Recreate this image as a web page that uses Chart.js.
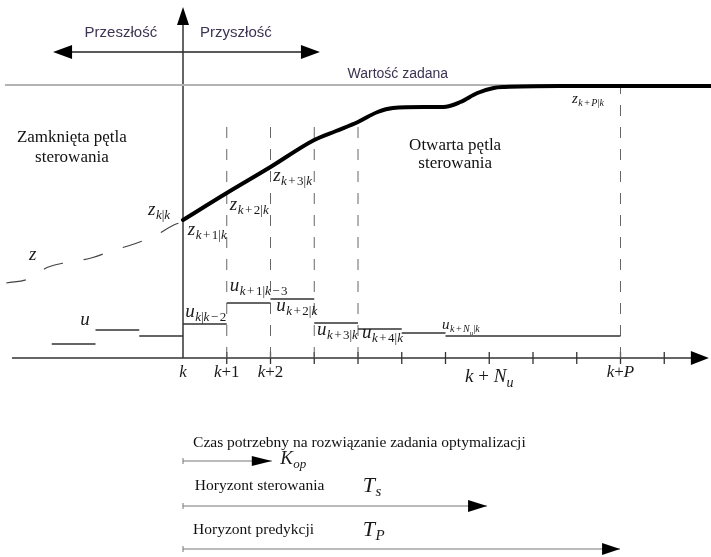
<!DOCTYPE html>
<html>
<head>
<meta charset="utf-8">
<script src="https://cdn.jsdelivr.net/npm/chart.js@4/dist/chart.umd.min.js"></script>
<style>
  html, body { margin: 0; padding: 0; background: #fff; }
  #c { display: block; }
</style>
</head>
<body>
<canvas id="c" width="711" height="557"></canvas>
<script>
// x = time step relative to k, y = level above the time axis
const zPastT = [-4.04, -3.54, -3.08, -2.60, -2.10, -1.64, -1.12, -0.66, -0.21, 0];
const zPastV = [75, 79, 91, 96, 100, 107, 114, 122, 133, 136];

const zPredT = [0, 1, 2, 3, 3.5, 4, 4.45, 4.8, 5.5, 5.95, 6.34, 6.73, 7.1, 7.35, 8.6, 12.1];
const zPredV = [138, 165, 191, 218, 227, 236, 246, 250, 251, 251, 256, 265, 270, 271, 272, 272];

const setpoint = 273;

const uStart = [-3, -2, -1, 0, 1, 2, 3, 4, 5, 6];
const uEnd   = [-2, -1, 0, 1, 2, 3, 4, 5, 6, 10];
const uLevel = [14, 28, 22, 34, 55, 59, 35, 29, 25, 22];

const markSteps = [1, 2, 3, 4, 10];          // dashed verticals
const markTop   = [233, 235, 236, 238, 270];

const axisTicks = [1, 2, 3, 4, 5, 6, 7, 8, 9, 10, 11];
const tickSteps  = [0, 1, 2, 7, 10];
const tickLabels = ['k', 'k+1', 'k+2', 'k + N_u', 'k+P'];

const horizonNames = ['K_op', 'T_s', 'T_P'];
const horizonEnd   = [2.03, 6.95, 9.99];

const SERIF = '"Liberation Serif", "Times New Roman", serif';
const MATH = SERIF;
const SANS = '"Liberation Sans", Arial, sans-serif';

function pts(xs, ys) {
    return xs.map((x, i) => ({ x: x, y: ys[i] }));
}

// separate pieces joined by null gaps
function segments(x0, x1, y0, y1) {
    const out = [];
    for (let i = 0; i < x0.length; i++) {
        out.push({ x: x0[i], y: y0[i] }, { x: x1[i], y: y1[i] }, { x: x1[i], y: null });
    }
    return out;
}

const line = (data, color, width, extra) => Object.assign({
    data: data, showLine: true, borderColor: color, borderWidth: width,
    pointRadius: 0, fill: false, spanGaps: false
}, extra || {});

// horizon arrows below the chart
const hLevel = [-103, -148, -191];

const datasets = [
    line(pts(zPredT, zPredV), '#000', 4, { cubicInterpolationMode: 'monotone', borderCapStyle: 'round' }),
    line(pts(zPastT, zPastV), '#444', 1.2, { borderDash: [20, 21], tension: 0.4 }),
    line(segments(uStart, uEnd, uLevel, uLevel), '#333', 1.5),
    line(segments(markSteps, markSteps, markSteps.map(() => 0), markTop), '#666', 1, { borderDash: [11, 11] }),
    line([{ x: -4.07, y: setpoint }, { x: 12.1, y: setpoint }], '#b4b4b4', 2),
    line([{ x: -3.91, y: 0 }, { x: 11.7, y: 0 }], '#333', 1.5),
    line([{ x: 0, y: 0 }, { x: 0, y: 338 }], '#333', 1.5),
    line([{ x: -2.9, y: 306 }, { x: 3.05, y: 306 }], '#222', 1.5),
    line(segments(horizonNames.map(() => 0), horizonEnd, hLevel, hLevel), '#777', 1),
    {
        data: axisTicks.map(s => ({ x: s, y: 0 })), showLine: false,
        pointStyle: 'line', rotation: 90, pointRadius: 6, borderColor: '#333', borderWidth: 1.3
    },
    {
        data: hLevel.map(v => ({ x: 0, y: v })), showLine: false,
        pointStyle: 'line', rotation: 90, pointRadius: 3, borderColor: '#777', borderWidth: 1
    }
];

// split "k+1|k" into runs: letters italic, the rest upright, "_x" one level lower
function runs(str, size, pad) {
    const out = [];
    for (let i = 0; i < str.length; i++) {
        let ch = str[i];
        if (ch === '_') {
            out.push({ t: str[i + 1], it: true, size: Math.round(size * 0.72), dy: size * 0.25 });
            i++;
            continue;
        }
        if (ch === '-') ch = '\u2212';
        const letter = /[A-Za-z]/.test(ch);
        const op = ch === '+' || ch === '\u2212';
        out.push({ t: ch, it: letter, size: size, dy: 0, pad: op ? pad : 0 });
    }
    return out;
}

function measureRuns(ctx, rs, family) {
    let w = 0;
    rs.forEach(r => {
        ctx.font = (r.it ? 'italic ' : '') + r.size + 'px ' + family;
        w += ctx.measureText(r.t).width + 2 * (r.pad || 0);
    });
    return w;
}

function drawRuns(ctx, rs, x, y, family) {
    rs.forEach(r => {
        ctx.font = (r.it ? 'italic ' : '') + r.size + 'px ' + family;
        x += r.pad || 0;
        ctx.fillText(r.t, x, y + r.dy);
        x += ctx.measureText(r.t).width + (r.pad || 0);
    });
    return x;
}

// symbol with a subscript, left edge at x, baseline at y
function drawSym(ctx, x, y, base, sub, size) {
    ctx.font = 'italic ' + size + 'px ' + MATH;
    ctx.fillText(base, x, y);
    x += ctx.measureText(base).width + 0.5;
    const s = Math.round(size * 0.68);
    drawRuns(ctx, runs(sub, s, 1.5), x, y + size * 0.2, MATH);
}

const symbols = [
    { b: 'z', s: 'k|k', x: -0.80, y: 143, size: 19 },
    { b: 'z', s: 'k+1|k', x: 0.11, y: 123, size: 19 },
    { b: 'z', s: 'k+2|k', x: 1.07, y: 148, size: 19 },
    { b: 'z', s: 'k+3|k', x: 2.06, y: 177, size: 19 },
    { b: 'z', s: 'k+P|k', x: 8.89, y: 255, size: 15 },
    { b: 'z', s: '', x: -3.52, y: 98, size: 19 },
    { b: 'u', s: '', x: -2.35, y: 33, size: 19 },
    { b: 'u', s: 'k|k-2', x: 0.05, y: 41, size: 19 },
    { b: 'u', s: 'k+1|k-3', x: 1.07, y: 67, size: 19 },
    { b: 'u', s: 'k+2|k', x: 2.13, y: 47, size: 19 },
    { b: 'u', s: 'k+3|k', x: 3.06, y: 23, size: 19 },
    { b: 'u', s: 'k+4|k', x: 4.09, y: 20, size: 19 },
    { b: 'u', s: 'k+N_u|k', x: 5.92, y: 29, size: 15 }
];

const texts = [
    { t: 'Przeszłość', x: -1.42, y: 321, font: '15px ' + SANS, color: '#3d3352', align: 'center' },
    { t: 'Przyszłość', x: 1.21, y: 321, font: '15px ' + SANS, color: '#3d3352', align: 'center' },
    { t: 'Wartość zadana', x: 4.91, y: 280, font: '14px ' + SANS, color: '#3d3352', align: 'center' },
    { t: 'Zamknięta pętla', x: -2.54, y: 216, font: '17px ' + SERIF, color: '#111', align: 'center' },
    { t: 'sterowania', x: -2.54, y: 196, font: '17px ' + SERIF, color: '#111', align: 'center' },
    { t: 'Otwarta pętla', x: 6.22, y: 208, font: '17px ' + SERIF, color: '#111', align: 'center' },
    { t: 'sterowania', x: 6.22, y: 190, font: '17px ' + SERIF, color: '#111', align: 'center' },
    { t: 'Czas potrzebny na rozwiązanie zadania optymalizacji', x: 0.23, y: -89, font: '15.5px ' + SERIF, color: '#111', align: 'left' },
    { t: 'Horyzont sterowania', x: 0.27, y: -132, font: '15.5px ' + SERIF, color: '#111', align: 'left' },
    { t: 'Horyzont predykcji', x: 0.23, y: -176, font: '15.5px ' + SERIF, color: '#111', align: 'left' }
];

const horizonSym = [
    { x: 2.22, y: -106, size: 19 },
    { x: 4.11, y: -134, size: 22 },
    { x: 4.11, y: -178, size: 22 }
];

// [tipX, tipY, dirX, dirY, length px, half width px]
const heads = [
    [0, 351, 0, 1, 18, 6],
    [12.02, 0, 1, 0, 18, 7],
    [-2.97, 306, -1, 0, 19, 7],
    [3.13, 306, 1, 0, 19, 7],
    [horizonEnd[0], hLevel[0], 1, 0, 20, 5],
    [horizonEnd[1], hLevel[1], 1, 0, 19, 6],
    [horizonEnd[2], hLevel[2], 1, 0, 18, 6]
];

const decor = {
    id: 'decor',
    afterDatasetsDraw(chart) {
        const ctx = chart.ctx;
        const sx = chart.scales.x, sy = chart.scales.y;
        ctx.save();

        ctx.fillStyle = '#000';
        heads.forEach(h => {
            const tx = sx.getPixelForValue(h[0]), ty = sy.getPixelForValue(h[1]);
            const dx = h[2], dy = -h[3];
            const bx = tx - dx * h[4], by = ty - dy * h[4];
            ctx.beginPath();
            ctx.moveTo(tx, ty);
            ctx.lineTo(bx - dy * h[5], by + dx * h[5]);
            ctx.lineTo(bx + dy * h[5], by - dx * h[5]);
            ctx.closePath();
            ctx.fill();
        });

        ctx.textBaseline = 'alphabetic';
        texts.forEach(t => {
            ctx.font = t.font;
            ctx.fillStyle = t.color;
            ctx.textAlign = t.align;
            ctx.fillText(t.t, sx.getPixelForValue(t.x), sy.getPixelForValue(t.y));
        });

        ctx.textAlign = 'left';
        ctx.fillStyle = '#1a1a1a';
        symbols.forEach(s => {
            drawSym(ctx, sx.getPixelForValue(s.x), sy.getPixelForValue(s.y), s.b, s.s, s.size);
        });

        horizonNames.forEach((n, i) => {
            const p = horizonSym[i];
            const parts = n.split('_');
            drawSym(ctx, sx.getPixelForValue(p.x), sy.getPixelForValue(p.y), parts[0], parts[1], p.size);
        });

        // time axis labels
        tickLabels.forEach((lab, i) => {
            const big = lab.indexOf('N') >= 0;
            const rs = runs(lab, big ? 19 : 17, 0);
            const w = measureRuns(ctx, rs, SERIF);
            drawRuns(ctx, rs, sx.getPixelForValue(tickSteps[i]) - w / 2, sy.getPixelForValue(big ? -24 : -19), SERIF);
        });

        ctx.restore();
    }
};

new Chart(document.getElementById('c'), {
    type: 'scatter',
    data: { datasets: datasets },
    options: {
        responsive: false,
        animation: false,
        devicePixelRatio: 1,
        layout: { padding: 0, autoPadding: false },
        plugins: { legend: { display: false }, tooltip: { enabled: false } },
        scales: {
            x: { type: 'linear', display: false, min: -183 / 43.75, max: 528 / 43.75 },
            y: { type: 'linear', display: false, min: -199, max: 358 }
        }
    },
    plugins: [decor]
});
</script>
</body>
</html>
